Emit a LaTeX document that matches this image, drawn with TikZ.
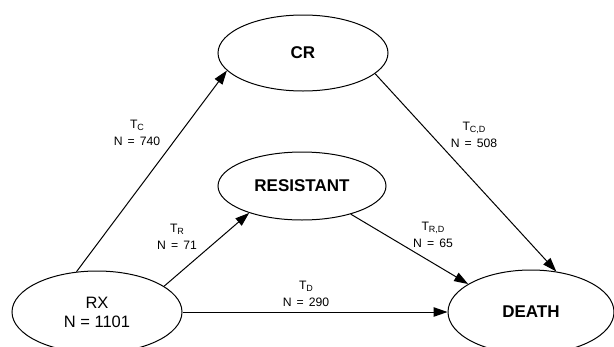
\documentclass[tikz,border=0pt]{standalone}
\usepackage{fontspec}
\setmainfont{Liberation Sans}
\newfontfamily\labfont[WordSpace=1.5]{Liberation Sans}
\usetikzlibrary{shapes.geometric,arrows.meta}
% lowered index for transition names
\newcommand\lowidx[1]{\raisebox{-2pt}{\fontsize{9}{9}\selectfont #1}}

\begin{document}
\begin{tikzpicture}[x=1pt,y=-1pt,
  state/.style={ellipse,draw,line width=1pt,inner sep=0pt},
  bigtext/.style={font=\fontsize{16.5}{19}\selectfont},
  boldtext/.style={font=\bfseries\fontsize{17}{19}\selectfont},
  trans/.style={-{Triangle[length=14pt,width=9.5pt]},line width=1pt},
  lab/.style={align=center,inner sep=0pt,font=\labfont\fontsize{12.2}{17}\selectfont}]
\useasboundingbox (0,0) rectangle (614,346);

% states
\node[state,boldtext,minimum width=170pt,minimum height=76pt] (cr) at (303,53) {CR};
\node[state,boldtext,minimum width=168pt,minimum height=68pt] (res) at (302,186) {RESISTANT};
\node[state,bigtext,align=center,minimum width=170pt,minimum height=82pt] (rx) at (97,312) {RX\\N = 1101};
\node[state,boldtext,minimum width=166pt,minimum height=84pt] (death) at (531,312) {DEATH};

% transitions
\draw[trans] (rx.117.7) -- (cr.193.7);
\draw[trans] (rx.21.4) -- (res.207);
\draw[trans] (rx.east) -- (death.west);
\draw[trans] (cr.-16) -- (death.58);
\draw[trans] (res.-30) -- (death.156.6);

% transition labels
\node[lab] (lc) at (137,133) {T\lowidx{C}\\N = 740};
\node[lab] (lr) at (177,237) {T\lowidx{R}\\N = 71};
\node[lab] (ld) at (306,294) {T\lowidx{D}\\N = 290};
\node[lab] (lcd) at (474,135) {T\lowidx{C,D}\\N = 508};
\node[lab] (lrd) at (433,235) {T\lowidx{R,D}\\N = 65};
\end{tikzpicture}
\end{document}
